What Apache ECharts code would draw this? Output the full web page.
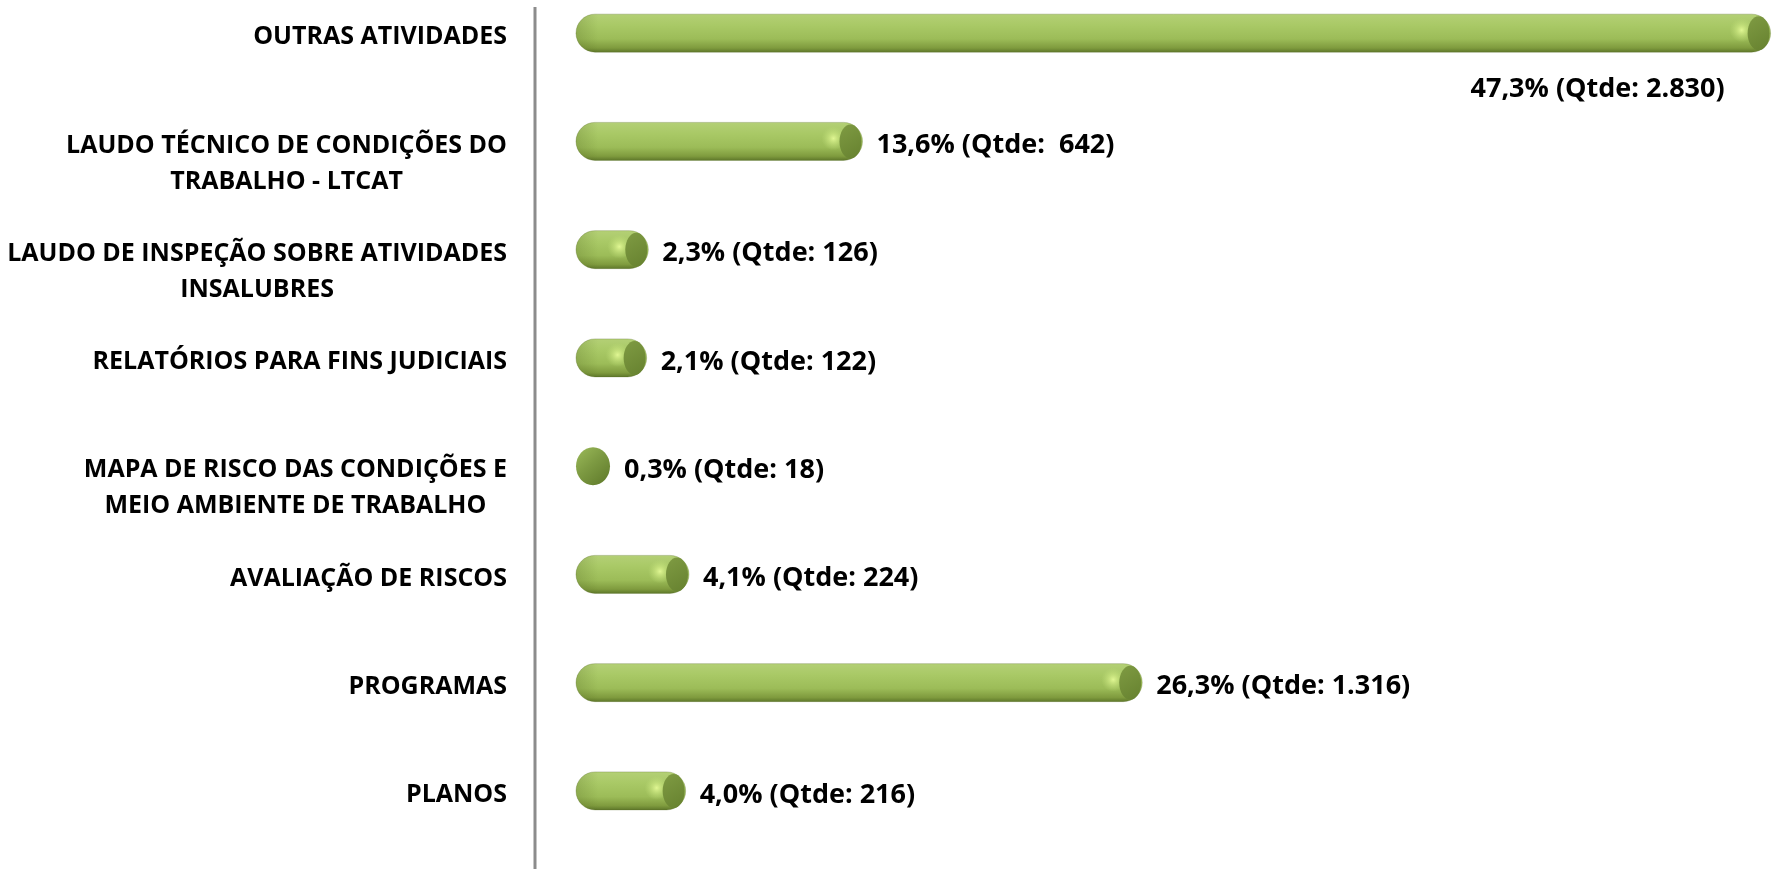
<!DOCTYPE html>
<html>
<head>
<meta charset="utf-8">
<title>Atividades</title>
<script src="https://cdn.jsdelivr.net/npm/echarts@6/dist/echarts.min.js"></script>
<style>
	html, body { margin: 0; padding: 0; background: #fff; }
	#chart { width: 1776px; height: 869px; }
</style>
</head>
<body>
<div id="chart"></div>
<script>
var categories = [
	'OUTRAS ATIVIDADES',
	'LAUDO TÉCNICO DE CONDIÇÕES DO\nTRABALHO - LTCAT',
	'LAUDO DE INSPEÇÃO SOBRE ATIVIDADES\nINSALUBRES',
	'RELATÓRIOS PARA FINS JUDICIAIS',
	'MAPA DE RISCO DAS CONDIÇÕES E\nMEIO AMBIENTE DE TRABALHO',
	'AVALIAÇÃO DE RISCOS',
	'PROGRAMAS',
	'PLANOS'
];
var percentValues = [47.3, 13.6, 2.3, 2.1, 0.3, 4.1, 26.3, 4.0];
var qtdeValues = [2830, 642, 126, 122, 18, 224, 1316, 216];

var fontName = '"Open Sans", "Noto Sans", sans-serif';

function formatPercent(p) {
	return p.toFixed(1).replace('.', ',') + '%';
}
function formatQtde(q) {
	var s = String(q).replace(/\B(?=(\d{3})+(?!\d))/g, '.');
	// the source pads short numbers to the same width
	return s.length < 3 ? s : (s.length == 3 && q > 500 ? ' ' + s : s);
}

// cylinder shaped bar, drawn from the value axis
function renderCylinder(params, api) {
	var v = api.value(0);
	var cat = api.value(1);
	var start = api.coord([0, cat]);
	var end = api.coord([v, cat]);
	var h = 38, r = h / 2;
	var cy = start[1];
	var x0 = start[0] - 20;
	var x1 = end[0];
	var w = Math.max(x1 - x0, 34);
	x1 = x0 + w;
	var small = w < 40;
	var capRx = small ? w / 2 : 11;
	var children = [];

	if (!small) {
		children.push({
			type : 'rect',
			shape : { x : x0, y : cy - r, width : w, height : h, r : r },
			style : {
				fill : new echarts.graphic.LinearGradient(0, 0, 0, 1, [
					{ offset : 0, color : '#b4d076' },
					{ offset : 0.3, color : '#a9c966' },
					{ offset : 0.65, color : '#9cbc58' },
					{ offset : 0.88, color : '#7f9b3e' },
					{ offset : 1, color : '#5b7428' }
				]),
				stroke : 'rgba(90,110,40,0.3)',
				lineWidth : 1
			}
		});
		children.push({
			type : 'rect',
			shape : { x : x0, y : cy - r, width : w, height : h, r : r },
			style : {
				fill : new echarts.graphic.LinearGradient(0, 0, 1, 0, [
					{ offset : 0, color : 'rgba(70,90,25,0.22)' },
					{ offset : Math.min(0.5, 22 / w), color : 'rgba(70,90,25,0)' },
					{ offset : 1, color : 'rgba(70,90,25,0)' }
				])
			}
		});
		children.push({
			type : 'circle',
			shape : { cx : x1 - 2 * capRx - 7, cy : cy - 3, r : 12 },
			style : {
				fill : new echarts.graphic.RadialGradient(0.5, 0.5, 0.5, [
					{ offset : 0, color : 'rgba(228,250,150,0.95)' },
					{ offset : 0.45, color : 'rgba(205,232,130,0.6)' },
					{ offset : 1, color : 'rgba(190,220,120,0)' }
				])
			}
		});
	}
	children.push({
		type : 'ellipse',
		shape : { cx : x1 - capRx - (small ? 0 : 1), cy : cy, rx : capRx, ry : small ? r : r - 2 },
		style : {
			fill : new echarts.graphic.LinearGradient(0, 0, 1, 1, small ? [
				{ offset : 0, color : '#9cbb5a' },
				{ offset : 0.45, color : '#7d9a42' },
				{ offset : 1, color : '#5d7829' }
			] : [
				{ offset : 0, color : '#7f9b43' },
				{ offset : 1, color : '#66812f' }
			])
		}
	});

	var text = formatPercent(percentValues[params.dataIndex]) + ' (Qtde: '
			+ formatQtde(qtdeValues[params.dataIndex]) + ')';
	var tx = x1 + 14, ty = cy + 4, align = 'left';
	if (tx + text.length * 14 > api.getWidth()) {
		tx = x1 - 46;
		ty = cy + 56;
		align = 'right';
	}
	children.push({
		type : 'text',
		style : {
			text : text,
			x : tx,
			y : ty,
			align : align,
			verticalAlign : 'middle',
			fill : '#000',
			font : 'bold 27px ' + fontName
		}
	});

	return { type : 'group', children : children };
}

var seriesData = qtdeValues.map(function(q, i) {
	return [ q, i ];
});

var chart = echarts.init(document.getElementById('chart'));
var option = {
	animation : false,
	grid : {
		left : 596,
		right : 0,
		top : -21,
		bottom : 24,
		outerBoundsMode : 'none'
	},
	xAxis : {
		type : 'value',
		min : 0,
		max : 2843,
		show : false
	},
	yAxis : {
		type : 'category',
		inverse : true,
		data : categories,
		axisLine : { show : false },
		axisTick : { show : false },
		splitLine : { show : false },
		axisLabel : {
			margin : 89,
			align : 'right',
			verticalAlign : 'middle',
			lineHeight : 36,
			fontFamily : fontName,
			fontWeight : 'bold',
			fontSize : 25,
			color : '#000',
			formatter : function(value) {
				var lines = value.split('\n');
				var out = [];
				for (var k = 1; k < lines.length; k++) {
					out.push('');
				}
				lines.forEach(function(l) {
					out.push('{c|' + l + '}');
				});
				return out.join('\n');
			},
			rich : {
				c : {
					align : 'center',
					lineHeight : 36,
					padding : [ 8, 0, 0, 0 ],
					fontFamily : fontName,
					fontWeight : 'bold',
					fontSize : 25,
					color : '#000'
				}
			}
		}
	},
	graphic : [ {
		type : 'line',
		shape : { x1 : 535, y1 : 7, x2 : 535, y2 : 869 },
		style : { stroke : '#8c8c8c', lineWidth : 3 }
	} ],
	series : [ {
		type : 'custom',
		renderItem : renderCylinder,
		encode : { x : 0, y : 1 },
		data : seriesData
	} ]
};
chart.setOption(option);
</script>
</body>
</html>
